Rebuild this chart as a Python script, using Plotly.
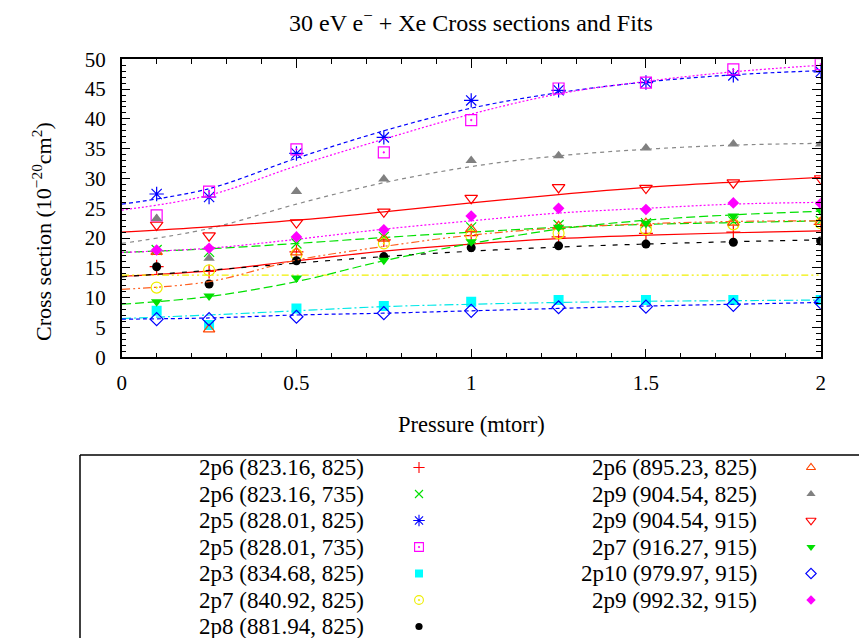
import plotly.graph_objects as go

W, H = 859, 638

# Measurement pressures (mtorr) and the pressure grid the fit curves are sampled on
pressure = [0.1, 0.25, 0.5, 0.75, 1.0, 1.25, 1.5, 1.75, 2.0]
fit_pressure = [0.0, 0.25, 0.5, 0.75, 1.0, 1.25, 1.5, 1.75, 2.0]

labels = [
    "2p6 (823.16, 825)", "2p6 (823.16, 735)", "2p5 (828.01, 825)",
    "2p5 (828.01, 735)", "2p3 (834.68, 825)", "2p7 (840.92, 825)",
    "2p8 (881.94, 825)", "2p6 (895.23, 825)", "2p9 (904.54, 825)",
    "2p9 (904.54, 915)", "2p7 (916.27, 915)", "2p10 (979.97, 915)",
    "2p9 (992.32, 915)",
]

# Measured cross sections (1e-20 cm^2)
cs_2p6_823_825 = [15.2, 14.4, 17.7, 19.7, 20.4, 20.2, 20.8, 21.0, 22.3]
cs_2p6_823_735 = [18.0, 17.7, 19.1, 20.2, 21.8, 22.2, 22.5, 22.8, 22.9]
cs_2p5_828_825 = [27.4, 26.9, 34.2, 36.9, 43.1, 44.8, 46.1, 47.3, 47.9]
cs_2p5_828_735 = [23.8, 27.8, 34.9, 34.4, 39.8, 45.1, 46.1, 48.3, 49.2]
cs_2p3_834_825 = [7.8, 5.4, 8.2, 8.6, 9.3, 9.6, 9.6, 9.6, 9.6]
cs_2p7_840_825 = [11.7, 14.6, 17.3, 19.1, 20.4, 20.8, 21.5, 22.3, 22.5]
cs_2p8_881_825 = [15.2, 12.3, 16.2, 16.9, 18.4, 18.7, 19.0, 19.3, 19.5]
cs_2p6_895_825 = [17.7, 4.7, 17.6, 19.9, 21.5, 22.0, 22.5, 22.6, 22.7]
cs_2p9_904_825 = [23.3, 16.6, 27.8, 29.9, 33.0, 33.8, 35.1, 35.8, 35.8]
cs_2p9_904_915 = [22.2, 20.4, 22.6, 24.4, 26.7, 28.5, 28.4, 29.3, 30.0]
cs_2p7_916_915 = [9.3, 10.3, 13.3, 16.3, 19.4, 21.8, 22.5, 23.7, 24.6]
cs_2p10_979_915 = [6.4, 6.4, 6.8, 7.4, 7.8, 8.4, 8.5, 8.8, 9.2]
cs_2p9_992_915 = [18.0, 18.3, 20.2, 21.4, 23.7, 25.0, 24.8, 25.9, 25.8]

# Fit curves evaluated on fit_pressure
fit_2p6_823_825 = [13.6, 14.5, 16.2, 17.8, 19.0, 19.9, 20.5, 20.9, 21.2]
fit_2p6_823_735 = [17.6, 18.2, 19.1, 20.1, 21.0, 21.8, 22.3, 22.6, 22.9]
fit_2p5_828_825 = [25.7, 28.3, 33.4, 38.0, 41.8, 44.4, 46.2, 47.4, 48.1]
fit_2p5_828_735 = [24.7, 27.2, 32.1, 36.6, 40.8, 44.2, 46.3, 47.9, 49.0]
fit_2p3_834_825 = [6.5, 7.1, 7.8, 8.5, 8.9, 9.2, 9.4, 9.5, 9.6]
fit_2p7_840_825 = [13.8, 13.8, 13.8, 13.8, 13.8, 13.8, 13.8, 13.8, 13.8]
fit_2p8_881_825 = [13.5, 14.6, 15.8, 16.9, 17.8, 18.5, 19.0, 19.4, 19.7]
fit_2p6_895_825 = [11.4, 12.7, 16.3, 18.6, 20.5, 21.7, 22.4, 22.8, 22.9]
fit_2p9_904_825 = [19.1, 21.6, 25.7, 29.3, 32.0, 33.8, 34.9, 35.6, 35.9]
fit_2p9_904_915 = [21.0, 21.9, 23.0, 24.4, 25.9, 27.3, 28.5, 29.4, 30.2]
fit_2p7_916_915 = [8.9, 10.2, 12.7, 16.2, 19.1, 21.5, 23.0, 23.9, 24.5]
fit_2p10_979_915 = [6.4, 6.6, 7.1, 7.4, 7.8, 8.2, 8.6, 8.9, 9.2]
fit_2p9_992_915 = [17.6, 18.3, 19.8, 21.5, 22.9, 24.2, 25.0, 25.7, 26.0]

measured = [cs_2p6_823_825, cs_2p6_823_735, cs_2p5_828_825, cs_2p5_828_735,
            cs_2p3_834_825, cs_2p7_840_825, cs_2p8_881_825, cs_2p6_895_825,
            cs_2p9_904_825, cs_2p9_904_915, cs_2p7_916_915, cs_2p10_979_915,
            cs_2p9_992_915]
fits = [fit_2p6_823_825, fit_2p6_823_735, fit_2p5_828_825, fit_2p5_828_735,
        fit_2p3_834_825, fit_2p7_840_825, fit_2p8_881_825, fit_2p6_895_825,
        fit_2p9_904_825, fit_2p9_904_915, fit_2p7_916_915, fit_2p10_979_915,
        fit_2p9_992_915]

# (symbol, marker colour, marker size, line colour, dash)
styles = [
    ("cross-thin", "#ff0000", 10, "#ff0000", "solid"),
    ("x-thin", "#00e000", 10, "#00e000", "9px,4px"),
    ("asterisk", "#0000ff", 12, "#0000ff", "4px,3px"),
    ("square-open-dot", "#ff00ff", 11, "#ff00ff", "2px,2px"),
    ("square", "#00ffff", 10, "#00e8e8", "9px,3px,2px,3px"),
    ("circle-open-dot", "#eeee00", 11, "#f0f000", "7px,3px,2px,3px,2px,3px"),
    ("circle", "#000000", 9, "#000000", "5px,7px"),
    ("triangle-up-open", "#ff4500", 10, "#ff6020", "8px,3px,2px,3px,2px,3px"),
    ("triangle-up", "#808080", 10, "#888888", "4px,4px"),
    ("triangle-down-open", "#ff0000", 11, "#ff0000", "solid"),
    ("triangle-down", "#00e000", 10, "#00e000", "9px,4px"),
    ("diamond-open", "#0000ff", 10, "#0000ff", "4px,3px"),
    ("diamond", "#ff00ff", 9, "#ff00ff", "2px,2px"),
]

FONT = "Liberation Serif"


def is_line_symbol(sym):
    return sym.endswith("open") or sym.endswith("dot") or "thin" in sym or sym == "asterisk"


fig = go.Figure()

for lab, ys, fy, (sym, mc, ms, lc, dash) in zip(labels, measured, fits, styles):
    fig.add_trace(go.Scatter(
        x=pressure, y=ys, mode="markers", name=lab, showlegend=False,
        marker=dict(symbol=sym, size=ms, color=mc,
                    line=dict(color=mc, width=1.2 if is_line_symbol(sym) else 0)),
    ))
    fig.add_trace(go.Scatter(
        x=fit_pressure, y=fy, mode="lines", showlegend=False, hoverinfo="skip",
        line=dict(color=lc, width=1.2, dash=dash, shape="spline", smoothing=1.0),
    ))

# Key: two columns of right-aligned labels with the point symbol to the right.
# The key lives on a full-page pixel-scaled axis pair (x2/y2).
rows_per_col = 7
key_top, key_step = 467.5, 26.5
col_text_x = [366, 759]
col_sym_x = [419, 811]
annotations = []
for i, (lab, (sym, mc, ms, lc, dash)) in enumerate(zip(labels, styles)):
    c, r = divmod(i, rows_per_col)
    yy = key_top + r * key_step
    annotations.append(dict(
        x=col_text_x[c], y=yy, xref="x2", yref="y2", text=lab, showarrow=False,
        xanchor="right", yanchor="middle", font=dict(family=FONT, size=23, color="black"),
    ))
    fig.add_trace(go.Scatter(
        x=[col_sym_x[c]], y=[yy], xaxis="x2", yaxis="y2", mode="markers",
        showlegend=False, hoverinfo="skip",
        marker=dict(symbol=sym, size=ms * 0.8, color=mc,
                    line=dict(color=mc, width=1.1 if is_line_symbol(sym) else 0)),
    ))

x0, x1 = 121.7 / W, 820.7 / W
y0, y1 = (H - 357.3) / H, (H - 59.3) / H

annotations += [
    dict(x=471, y=21, xref="x2", yref="y2", showarrow=False,
         text="30 eV e<sup>\u2212</sup> + Xe Cross sections and Fits",
         font=dict(family=FONT, size=24, color="black"), xanchor="center", yanchor="middle"),
    dict(x=471, y=424, xref="x2", yref="y2", showarrow=False, text="Pressure (mtorr)",
         font=dict(family=FONT, size=22.5, color="black"), xanchor="center", yanchor="middle"),
    dict(x=42, y=232, xref="x2", yref="y2", showarrow=False, textangle=-90,
         text="Cross section (10<sup>\u221220</sup>cm<sup>2</sup>)",
         font=dict(family=FONT, size=22, color="black"), xanchor="center", yanchor="middle"),
]

# Open-bottomed frame around the key
shapes = [
    dict(type="line", xref="x2", yref="y2", x0=80, y0=455, x1=W, y1=455,
         line=dict(color="black", width=1.5)),
    dict(type="line", xref="x2", yref="y2", x0=80, y0=455, x1=80, y1=H,
         line=dict(color="black", width=1.5)),
]

axis_common = dict(
    showline=True, linecolor="black", linewidth=1.5, mirror="ticks",
    ticks="inside", ticklen=9, tickwidth=1.2, tickcolor="black",
    showgrid=False, zeroline=False,
    tickfont=dict(family=FONT, size=21, color="black"),
)

fig.update_layout(
    width=W, height=H, margin=dict(l=0, r=0, t=0, b=0, pad=0, autoexpand=False),
    paper_bgcolor="white", plot_bgcolor="rgba(0,0,0,0)",
    xaxis=dict(domain=[x0, x1], range=[0, 2], tickvals=[0, 0.5, 1, 1.5, 2],
               ticktext=["0", "0.5", "1", "1.5", "2"], ticklabelstandoff=6,
               minor=dict(dtick=0.1, ticklen=5, ticks="inside", tickcolor="black", tickwidth=1),
               anchor="y", **axis_common),
    yaxis=dict(domain=[y0, y1], range=[0, 50], dtick=5, ticklabelstandoff=10,
               minor=dict(dtick=1, ticklen=5, ticks="inside", tickcolor="black", tickwidth=1),
               anchor="x", **axis_common),
    xaxis2=dict(domain=[0, 1], range=[0, W], visible=False, anchor="y2", fixedrange=True),
    yaxis2=dict(domain=[0, 1], range=[H, 0], visible=False, anchor="x2", fixedrange=True),
    annotations=annotations, shapes=shapes,
)

fig.write_html("out.html")
